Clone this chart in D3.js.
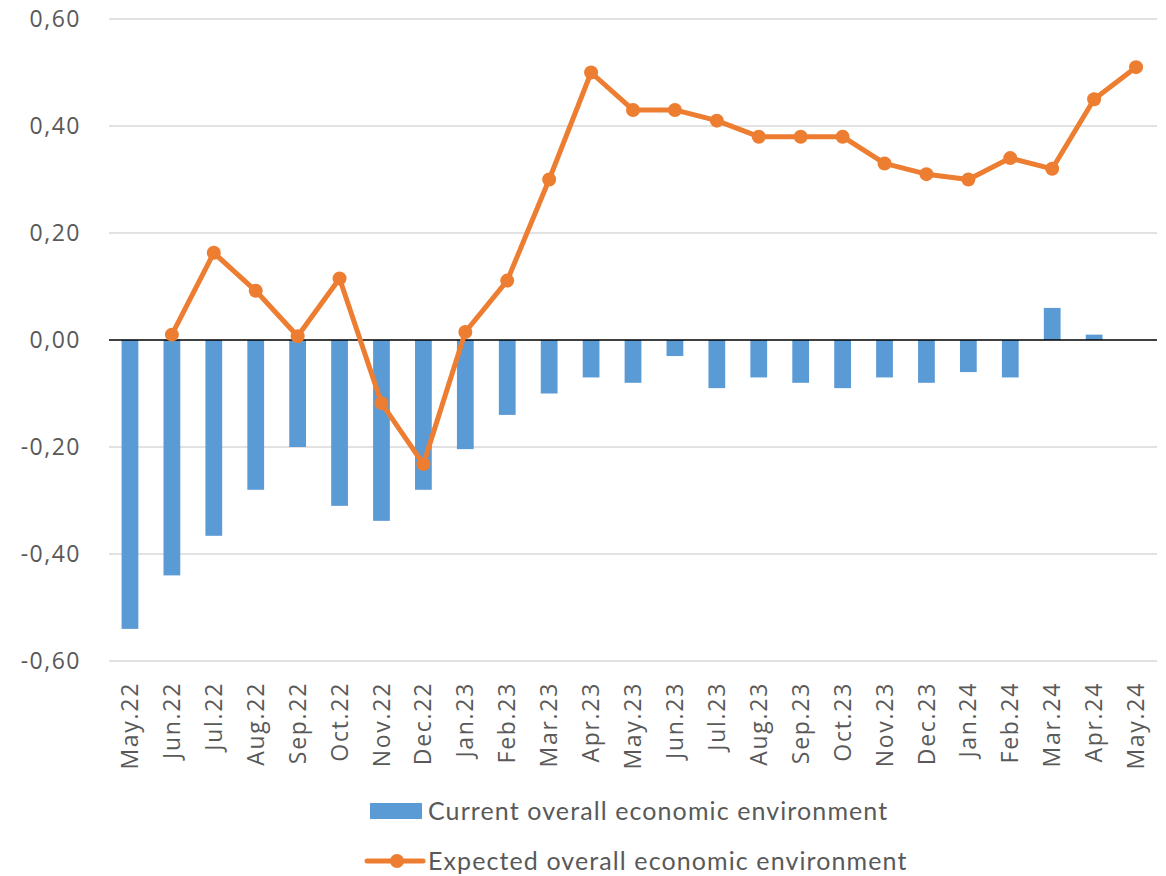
<!DOCTYPE html>
<html>
<head>
<meta charset="utf-8">
<script src="https://cdn.jsdelivr.net/npm/d3@7"></script>
<style>
  html, body { margin: 0; padding: 0; background: #fff; }
  svg { display: block; }
</style>
</head>
<body>
<svg id="chart" width="1166" height="876"></svg>
<script>
// Monthly survey balances
const months = ["May.22","Jun.22","Jul.22","Aug.22","Sep.22","Oct.22","Nov.22","Dec.22",
  "Jan.23","Feb.23","Mar.23","Apr.23","May.23","Jun.23","Jul.23","Aug.23","Sep.23","Oct.23",
  "Nov.23","Dec.23","Jan.24","Feb.24","Mar.24","Apr.24","May.24"];

const currentEnv = [-0.54,-0.44,-0.366,-0.28,-0.20,-0.31,-0.338,-0.28,
  -0.204,-0.14,-0.10,-0.07,-0.08,-0.03,-0.09,-0.07,-0.08,-0.09,
  -0.07,-0.08,-0.06,-0.07,0.06,0.01,null];

const expectedEnv = [null,0.01,0.163,0.092,0.007,0.115,-0.118,-0.232,
  0.015,0.111,0.30,0.50,0.43,0.43,0.41,0.38,0.38,0.38,
  0.33,0.31,0.30,0.34,0.32,0.45,0.51];

const yTicks = [0.6,0.4,0.2,0,-0.2,-0.4,-0.6];

const seriesNames = ["Current overall economic environment","Expected overall economic environment"];

const barColor = "#5B9BD5";
const lineColor = "#ED7D31";
const textColor = "#595959";

const svg = d3.select("#chart");
const plot = { left: 109, right: 1157, top: 19, bottom: 661 };

const x = d3.scaleBand().domain(months).range([plot.left, plot.right]).padding(0);
const y = d3.scaleLinear().domain([-0.6, 0.6]).range([plot.bottom, plot.top]);
const fmt = v => d3.format(".2f")(v).replace(".", ",").replace("−", "-");

// Horizontal gridlines
svg.append("g")
  .selectAll("line")
  .data(yTicks.filter(t => t !== 0))
  .join("line")
  .attr("x1", plot.left).attr("x2", plot.right)
  .attr("y1", d => y(d)).attr("y2", d => y(d))
  .attr("stroke", "#d9d9d9").attr("stroke-width", 1.5);

// Y axis labels
const yAxis = d3.axisLeft(y).tickValues(yTicks).tickFormat(fmt).tickSize(0).tickPadding(28);
const gy = svg.append("g").attr("transform", `translate(${plot.left},0)`).call(yAxis);
gy.select(".domain").remove();
gy.selectAll("text")
  .attr("fill", textColor)
  .style("font-family", "'Open Sans', sans-serif")
  .style("font-size", "23px")
  .style("letter-spacing", "1.5px");

// Bars
const barW = x.bandwidth() * 0.4;
svg.append("g")
  .selectAll("rect")
  .data(months.map((m, i) => ({ m, v: currentEnv[i] })).filter(d => d.v !== null))
  .join("rect")
  .attr("x", d => x(d.m) + (x.bandwidth() - barW) / 2)
  .attr("width", barW)
  .attr("y", d => y(Math.max(0, d.v)))
  .attr("height", d => Math.abs(y(d.v) - y(0)))
  .attr("fill", barColor);

// Zero line
svg.append("line")
  .attr("x1", plot.left).attr("x2", plot.right)
  .attr("y1", y(0)).attr("y2", y(0))
  .attr("stroke", "#000").attr("stroke-width", 1.5);

// Line series with markers
const linePts = months.map((m, i) => ({ m, v: expectedEnv[i] })).filter(d => d.v !== null);
const cx = d => x(d.m) + x.bandwidth() / 2;
svg.append("path")
  .datum(linePts)
  .attr("d", d3.line().x(cx).y(d => y(d.v)))
  .attr("fill", "none")
  .attr("stroke", lineColor)
  .attr("stroke-width", 5)
  .attr("stroke-linejoin", "round");
svg.append("g")
  .selectAll("circle")
  .data(linePts)
  .join("circle")
  .attr("cx", cx).attr("cy", d => y(d.v)).attr("r", 7)
  .attr("fill", lineColor);

// X axis labels (rotated)
const xAxis = d3.axisBottom(x).tickSize(0).tickPadding(0);
const gx = svg.append("g").attr("transform", `translate(0,${plot.bottom})`).call(xAxis);
gx.select(".domain").remove();
gx.selectAll("text")
  .attr("fill", textColor)
  .style("font-family", "'Open Sans', sans-serif")
  .style("font-size", "23px")
  .style("letter-spacing", "1.7px")
  .attr("text-anchor", "end")
  .attr("dy", "0.35em")
  .attr("transform", "translate(0,21) rotate(-90)")
  .attr("x", 0).attr("y", 0);

// Legend
const legend = svg.append("g")
  .style("font-family", "Lato, 'Open Sans', sans-serif")
  .style("letter-spacing", "1.1px");
legend.append("rect")
  .attr("x", 370).attr("y", 803).attr("width", 52).attr("height", 16)
  .attr("fill", barColor);
legend.append("text")
  .attr("x", 428).attr("y", 811).attr("dy", "0.35em")
  .attr("fill", textColor).style("font-size", "25px")
  .text(seriesNames[0]);
legend.append("line")
  .attr("x1", 367).attr("x2", 423).attr("y1", 861).attr("y2", 861)
  .attr("stroke", lineColor).attr("stroke-width", 5).attr("stroke-linecap", "round");
legend.append("circle")
  .attr("cx", 397).attr("cy", 861).attr("r", 7).attr("fill", lineColor);
legend.append("text")
  .attr("x", 428).attr("y", 861).attr("dy", "0.35em")
  .attr("fill", textColor).style("font-size", "25px")
  .text(seriesNames[1]);
</script>
</body>
</html>
